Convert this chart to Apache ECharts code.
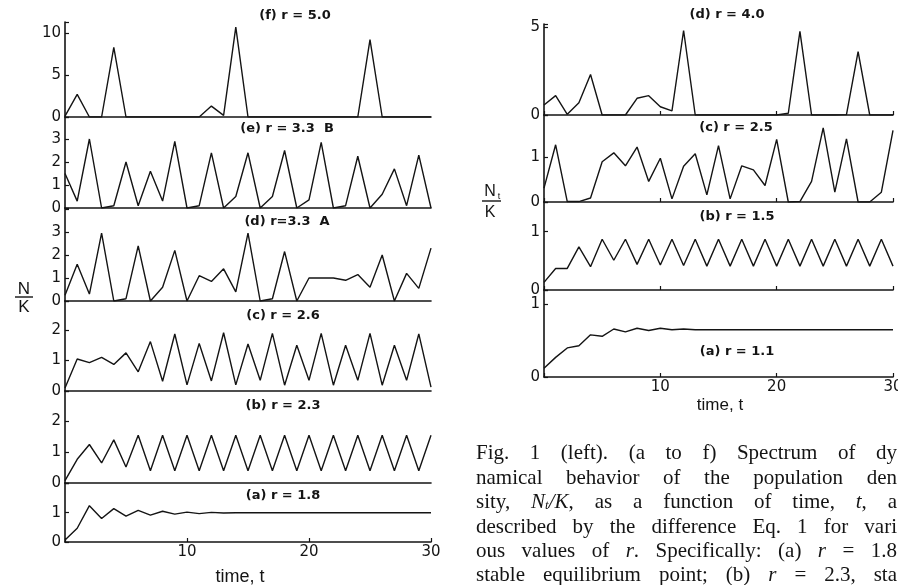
<!DOCTYPE html>
<html><head><meta charset="utf-8">
<script src="https://cdn.jsdelivr.net/npm/echarts@6/dist/echarts.min.js"></script>
<style>html,body{margin:0;padding:0;background:#fff}#c{width:898px;height:585px}</style>
</head><body><div id="c"></div><script>
// ---- data ----
const timeSteps = [0,1,2,3,4,5,6,7,8,9,10,11,12,13,14,15,16,17,18,19,20,21,22,23,24,25,26,27,28,29,30];

// Left figure (a to f)
const leftF_r50  = [0.1,2.7,0,0,8.3,0,0,0,0,0,0,0,1.3,0.2,10.7,0,0,0,0,0,0,0,0,0,0,9.2,0,0,0,0,0];
const leftE_r33B = [1.5,0.3,3.0,0.0,0.1,2.0,0.1,1.6,0.3,2.9,0.0,0.1,2.4,0.0,0.5,2.4,0.0,0.5,2.5,0.0,0.35,2.85,0.0,0.1,2.25,0.0,0.6,1.7,0.1,2.3,0.0];
const leftD_r33A = [0.25,1.6,0.3,2.95,0.0,0.1,2.4,0.0,0.6,2.2,0.0,1.1,0.85,1.4,0.4,2.95,0.0,0.1,2.15,0.0,1.0,1.0,1.0,0.9,1.15,0.6,2.0,0.0,1.2,0.55,2.3];
const leftC_r26  = [0.1,1.05,0.93,1.1,0.87,1.25,0.63,1.62,0.32,1.87,0.2,1.56,0.33,1.91,0.2,1.54,0.35,1.89,0.19,1.5,0.35,1.89,0.19,1.5,0.35,1.89,0.19,1.5,0.35,1.87,0.13];
const leftB_r23  = [0.08,0.77,1.25,0.65,1.4,0.52,1.55,0.4,1.55,0.4,1.55,0.4,1.55,0.4,1.55,0.4,1.55,0.4,1.55,0.4,1.55,0.4,1.55,0.4,1.55,0.4,1.55,0.4,1.55,0.4,1.55];
const leftA_r18  = [0.07,0.47,1.24,0.8,1.14,0.88,1.08,0.92,1.05,0.95,1.02,0.97,1.01,0.99,1.0,1.0,1.0,1.0,1.0,1.0,1.0,1.0,1.0,1.0,1.0,1.0,1.0,1.0,1.0,1.0,1.0];

// Right figure (a to d)
const rightD_r40 = [0.57,1.1,0.04,0.7,2.3,0,0,0,0.95,1.1,0.47,0.23,4.8,0,0,0,0,0,0,0,0,0.1,4.75,0,0,0,0.02,3.6,0,0,0];
const rightC_r25 = [0.31,1.28,0.01,0.01,0.09,0.9,1.1,0.81,1.23,0.46,0.98,0.07,0.8,1.08,0.16,1.26,0.07,0.81,0.72,0.37,1.4,0.0,0.01,0.46,1.66,0.22,1.41,0.0,0.0,0.22,1.6];
const rightB_r15 = [0.13,0.37,0.37,0.74,0.4,0.87,0.51,0.87,0.44,0.87,0.43,0.87,0.42,0.87,0.41,0.87,0.41,0.87,0.41,0.87,0.41,0.87,0.41,0.87,0.41,0.87,0.41,0.87,0.41,0.87,0.41];
const rightA_r11 = [0.12,0.27,0.4,0.43,0.58,0.56,0.66,0.62,0.67,0.64,0.67,0.65,0.66,0.65,0.65,0.65,0.65,0.65,0.65,0.65,0.65,0.65,0.65,0.65,0.65,0.65,0.65,0.65,0.65,0.65,0.65];

// tick labels
const xTickLabels = [10, 20, 30];
const ticksF = [0,5,10], ticksE = [0,1,2,3], ticksD = [0,1,2,3], ticksC = [0,1,2], ticksB = [0,1,2], ticksA = [0,1];
const ticksRD = [0,5], ticksRC = [0,1], ticksRB = [0,1], ticksRA = [0,1];

// panel titles
const titles = {
  lf:'(f) r = 5.0', le:'(e) r = 3.3  B', ld:'(d) r=3.3  A', lc:'(c) r = 2.6', lb:'(b) r = 2.3', la:'(a) r = 1.8',
  rd:'(d) r = 4.0', rc:'(c) r = 2.5', rb:'(b) r = 1.5', ra:'(a) r = 1.1'
};

const captionLines = [
  'Fig. 1 (left). (a to f) Spectrum of dy',
  'namical behavior of the population den',
  'sity, {i|N}{sub|t}{i|/K}, as a function of time, {i|t}, a',
  'described by the difference Eq. 1 for vari',
  'ous values of {i|r}. Specifically: (a) {i|r} = 1.8',
  'stable equilibrium point; (b) {i|r} = 2.3, sta'
];

// ---- layout (pixels) ----
const INK = '#141414';
const L = {left:65, width:366}, R = {left:544, width:349};
const panels = [
  {key:'lf', col:L, data:leftF_r50,  top:22,  zero:117, unit:8.4,  ticks:ticksF, interval:5, tpos:[295,16]},
  {key:'le', col:L, data:leftE_r33B, top:117, zero:208, unit:23,   ticks:ticksE, interval:1, tpos:[287,129]},
  {key:'ld', col:L, data:leftD_r33A, top:208, zero:301, unit:23,   ticks:ticksD, interval:1, tpos:[287,222]},
  {key:'lc', col:L, data:leftC_r26,  top:301, zero:391, unit:30.5, ticks:ticksC, interval:1, tpos:[283,316]},
  {key:'lb', col:L, data:leftB_r23,  top:391, zero:483, unit:30.8, ticks:ticksB, interval:1, tpos:[283,406]},
  {key:'la', col:L, data:leftA_r18,  top:483, zero:542, unit:29.3, ticks:ticksA, interval:1, tpos:[283,496], bottom:true},
  {key:'rd', col:R, data:rightD_r40, top:24,  zero:115, unit:17.6, ticks:ticksRD, interval:5, tpos:[727,15], xt:true},
  {key:'rc', col:R, data:rightC_r25, top:115, zero:202, unit:44.7, ticks:ticksRC, interval:1, tpos:[736,128], xt:true},
  {key:'rb', col:R, data:rightB_r15, top:202, zero:290, unit:58.3, ticks:ticksRB, interval:1, tpos:[737,217], xt:true},
  {key:'ra', col:R, data:rightA_r11, top:290, zero:377, unit:72.7, ticks:ticksRA, interval:1, tpos:[737,352], bottom:true, xt:true}
];

const grid = [], xAxis = [], yAxis = [], series = [], graphic = [];
const labelFont = {fontFamily:'DejaVu Sans', fontSize:15, color:INK};
panels.forEach((p, i) => {
  const h = p.zero - p.top;
  grid.push({left:p.col.left, width:p.col.width, top:p.top, height:h, containLabel:false, outerBoundsMode:'none'});
  xAxis.push({
    gridIndex:i, type:'value', min:0, max:30, interval:10,
    axisLine:{onZero:false, lineStyle:{color:INK, width:1.6}},
    axisTick:{show: !!(p.bottom || p.xt), inside:true, length:4, lineStyle:{color:INK, width:1.2}},
    axisLabel:{show: !!p.bottom, margin:3,
      formatter: v => xTickLabels.includes(v) ? String(v) : '', ...labelFont},
    splitLine:{show:false}
  });
  yAxis.push({
    gridIndex:i, type:'value', min:0, max:h / p.unit, interval:p.interval,
    axisLine:{show:true, lineStyle:{color:INK, width:1.6}},
    axisTick:{show:true, inside:true, length:4, lineStyle:{color:INK, width:1.2}},
    axisLabel:{margin:4, formatter: v => p.ticks.includes(v) ? String(v) : '', ...labelFont},
    splitLine:{show:false}
  });
  series.push({
    type:'line', xAxisIndex:i, yAxisIndex:i, showSymbol:false, silent:true,
    data: timeSteps.map((t, k) => [t, p.data[k]]),
    lineStyle:{color:INK, width:1.4}
  });
  graphic.push({type:'text', x:p.tpos[0], y:p.tpos[1],
    style:{text:titles[p.key], font:'bold 13px "DejaVu Sans"', fill:INK,
      textAlign:'center', align:'center', textVerticalAlign:'middle', verticalAlign:'middle'}});
});

function txt(x, y, s, font, extra) {
  return Object.assign({type:'text', x, y, style:Object.assign({text:s, font, fill:INK,
    textAlign:'center', align:'center', textVerticalAlign:'middle', verticalAlign:'middle'}, extra || {})});
}
// axis names
graphic.push(txt(240, 577, 'time, t', '18px "Liberation Sans"'));
graphic.push(txt(720, 405, 'time, t', '17px "Liberation Sans"'));
graphic.push(txt(24, 289, 'N', '17px "Liberation Sans"'));
graphic.push({type:'line', shape:{x1:15, y1:297, x2:33, y2:297}, style:{stroke:INK, lineWidth:1.4}});
graphic.push(txt(24, 307, 'K', '17px "Liberation Sans"'));
graphic.push(txt(490, 192, 'N', '16px "Liberation Sans"'));
graphic.push(txt(499, 197, 't', '9px "Liberation Sans"'));
graphic.push({type:'line', shape:{x1:482, y1:201, x2:501, y2:201}, style:{stroke:INK, lineWidth:1.4}});
graphic.push(txt(490, 213, 'K', '16px "Liberation Sans"'));

// caption, justified line by line
const FS = 21;
const fonts = {n:FS + 'px "Liberation Serif"', i:'italic ' + FS + 'px "Liberation Serif"', sub:'italic 13px "Liberation Serif"'};
const ctx = document.createElement('canvas').getContext('2d');
function wordWidth(w) {
  const re = /\{(\w+)\|([^}]*)\}|([^{]+)/g; let m, s = 0;
  while ((m = re.exec(w))) { const k = m[3] ? 'n' : m[1]; const t = m[3] || m[2]; ctx.font = fonts[k]; s += ctx.measureText(t).width; }
  return s;
}
const capX0 = 476, capX1 = 897, capY = [453, 478, 502, 527, 551, 575];
captionLines.forEach((line, li) => {
  const words = line.split(' ');
  const ws = words.map(wordWidth);
  const total = ws.reduce((a, b) => a + b, 0);
  const gap = (capX1 - capX0 - total) / (words.length - 1);
  let x = capX0;
  words.forEach((w, k) => {
    graphic.push({type:'text', x, y:capY[li], style:{text:w, font:fonts.n, fill:INK,
      textAlign:'left', align:'left', textVerticalAlign:'middle', verticalAlign:'middle',
      rich:{i:{font:fonts.i, fontStyle:'italic', fontSize:FS, fontFamily:'Liberation Serif'},
            sub:{font:fonts.sub, fontStyle:'italic', fontSize:13, fontFamily:'Liberation Serif', verticalAlign:'bottom'}}}});
    x += ws[k] + gap;
  });
});

const chart = echarts.init(document.getElementById('c'));
chart.setOption({backgroundColor:'#ffffff', animation:false, grid, xAxis, yAxis, series, graphic});
</script></body></html>
